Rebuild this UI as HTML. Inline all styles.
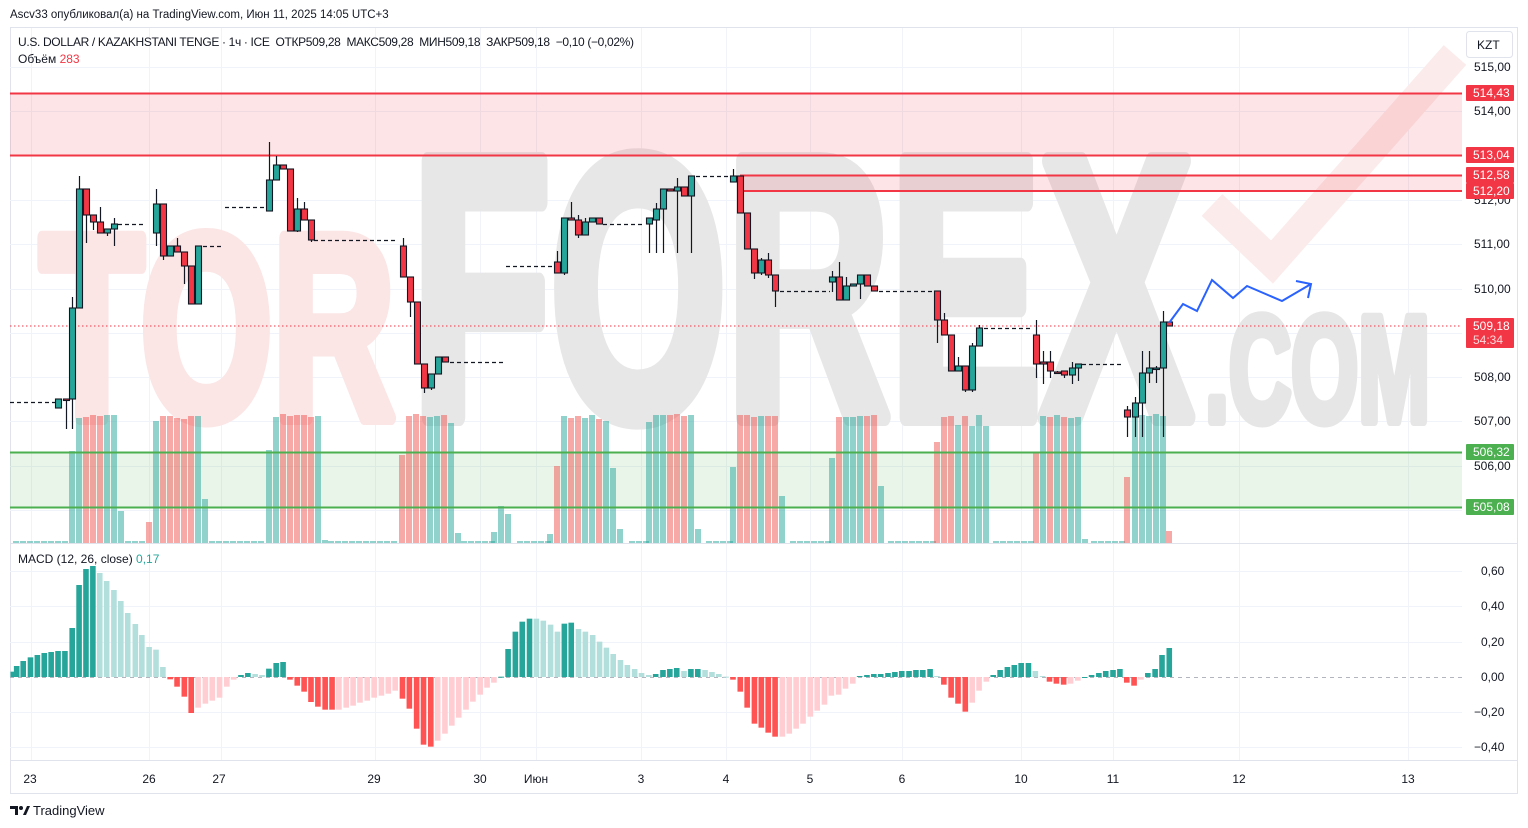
<!DOCTYPE html>
<html><head><meta charset="utf-8"><style>
html,body{margin:0;padding:0;background:#fff;width:1528px;height:828px;overflow:hidden;font-family:"Liberation Sans","DejaVu Sans",sans-serif}
</style></head><body>
<svg id="s" width="1528" height="828" xmlns="http://www.w3.org/2000/svg" style="position:absolute;left:0;top:0">
<rect x="0" y="0" width="1528" height="828" fill="#fff"/>
<text x="10" y="18" font-size="11.5" fill="#131722" font-family="Liberation Sans, DejaVu Sans, sans-serif">Ascv33 опубликовал(а) на TradingView.com, Июн 11, 2025 14:05 UTC+3</text>
<rect x="10.5" y="27.5" width="1507" height="766" fill="none" stroke="#e0e3eb"/>
<g id="grid" stroke="#f0f3fa" stroke-width="1"></g>
<!-- watermark -->
<g font-family="Liberation Sans, DejaVu Sans, sans-serif" font-weight="bold" stroke-linejoin="round">
<text x="40" y="418" font-size="262" textLength="355" lengthAdjust="spacingAndGlyphs" fill="#fbe5e5" stroke="#fbe5e5" stroke-width="14">TOR</text>
<text x="412" y="417" font-size="372" textLength="780" lengthAdjust="spacingAndGlyphs" fill="#e7e7e7" stroke="#e7e7e7" stroke-width="18">FOREX</text>
<text x="1205" y="421" font-size="150" textLength="225" lengthAdjust="spacingAndGlyphs" fill="#e6e6e6" stroke="#e6e6e6" stroke-width="10">.COM</text>
</g>
<polyline points="1212,205 1272,262 1455,55" fill="none" stroke="#fcebeb" stroke-width="30"/>
<!-- zones -->
<rect x="10" y="93" width="1452" height="62" fill="#f23645" fill-opacity="0.13"/>
<line x1="10" y1="93.5" x2="1462" y2="93.5" stroke="#f23645" stroke-width="2"/>
<line x1="10" y1="155.5" x2="1462" y2="155.5" stroke="#f23645" stroke-width="2"/>
<rect x="740" y="175" width="722" height="16" fill="#f23645" fill-opacity="0.13"/>
<line x1="740" y1="175.5" x2="1462" y2="175.5" stroke="#f23645" stroke-width="2"/>
<line x1="743" y1="191" x2="1462" y2="191" stroke="#f23645" stroke-width="2"/>
<rect x="10" y="452" width="1452" height="55" fill="#4caf50" fill-opacity="0.13"/>
<g id="vol"></g>
<line x1="10" y1="452.5" x2="1462" y2="452.5" stroke="#4caf50" stroke-width="2"/>
<line x1="10" y1="507.5" x2="1462" y2="507.5" stroke="#4caf50" stroke-width="2"/>
<line x1="10" y1="326" x2="1462" y2="326" stroke="#f23645" stroke-width="1" stroke-dasharray="1.5,2.5"/>
<g id="dash" stroke="#131722" stroke-width="1.3" stroke-dasharray="4,3"></g>
<g id="cdl"></g>
<polyline points="1169,323 1183,304 1197,311 1212,280 1233,298 1247,286 1282,301 1311,284" fill="none" stroke="#2962ff" stroke-width="2"/>
<polyline points="1296,281 1311,284 1308,298" fill="none" stroke="#2962ff" stroke-width="2"/>
<line x1="10" y1="543.5" x2="1517" y2="543.5" stroke="#e0e3eb"/>
<line x1="10" y1="677.5" x2="1462" y2="677.5" stroke="#b2b5be" stroke-dasharray="4,4"/>
<g id="macd"></g>
<line x1="10" y1="760.5" x2="1517" y2="760.5" stroke="#e0e3eb"/>
<!-- legend -->
<g font-size="12" fill="#131722" font-family="Liberation Sans, DejaVu Sans, sans-serif">
<text x="18" y="46">U.S. DOLLAR / KAZAKHSTANI TENGE · 1ч · ICE  ОТКР509,28  МАКС509,28  МИН509,18  ЗАКР509,18  −0,10 (−0,02%)</text>
<text x="18" y="63">Объём <tspan fill="#f23645">283</tspan></text>
<text x="18" y="563">MACD (12, 26, close) <tspan fill="#26a69a">0,17</tspan></text>
</g>
<rect x="1466.5" y="31.5" width="46" height="26" rx="3" fill="#fff" stroke="#e0e3eb"/>
<text x="1477" y="49" font-size="12" fill="#131722">KZT</text>
<g id="axis" font-size="12" fill="#131722" font-family="Liberation Sans, DejaVu Sans, sans-serif"></g>
<g id="tags" font-size="12" fill="#fff" font-family="Liberation Sans, DejaVu Sans, sans-serif"></g>
<g id="time" font-size="12" fill="#131722" font-family="Liberation Sans, DejaVu Sans, sans-serif"></g>
<g transform="translate(10,804)"><path d="M0 2h8v9h-3v-6h-5z" fill="#131722"/><circle cx="11" cy="4" r="2" fill="#131722"/><path d="M13 11l4-9h3l-4 9z" fill="#131722"/></g>
<text x="33" y="815" font-size="13" fill="#131722" font-family="Liberation Sans, DejaVu Sans, sans-serif">TradingView</text>
</svg>
<script>
const NS="http://www.w3.org/2000/svg";
function el(p,t,a,txt){const e=document.createElementNS(NS,t);for(const k in a)e.setAttribute(k,a[k]);if(txt!==undefined)e.textContent=txt;document.getElementById(p).appendChild(e);return e;}
// fix legend spacing
document.querySelectorAll('text').forEach(t=>{if(t.textContent.indexOf('ОТКР')>=0){t.textContent='U.S. DOLLAR / KAZAKHSTANI TENGE · 1ч · ICE\u00a0\u00a0ОТКР509,28\u00a0\u00a0МАКС509,28\u00a0\u00a0МИН509,18\u00a0\u00a0ЗАКР509,18\u00a0\u00a0−0,10 (−0,02%)';t.setAttribute('textLength','616');}});
// grid
[31,149,221,375,480,536,641,726,810,902,1021,1113,1239,1408].forEach(x=>el('grid','line',{x1:x+.5,y1:28,x2:x+.5,y2:760}));
[67,111,155,200,244,289,333,377,421,466,510,571,606,642,712,747].forEach(y=>el('grid','line',{x1:10,y1:y+.5,x2:1462,y2:y+.5}));
// axis labels
[[67,'515,00'],[111,'514,00'],[200,'512,00'],[244,'511,00'],[289,'510,00'],[377,'508,00'],[421,'507,00'],[466,'506,00'],[571,'0,60'],[606,'0,40'],[642,'0,20'],[677,'0,00'],[712,'−0,20'],[747,'−0,40']].forEach(a=>el('axis','text',{x:a[1].length>5?1474:(a[1][0]=='−'?1474:1481),y:a[0]+4},a[1]));
function tag(y,t,c,h){el('tags','rect',{x:1466,y:y-8,width:48,height:h||16,fill:c,rx:1});el('tags','text',{x:1473,y:y+4},t);}
tag(93,'514,43','#f23645');tag(155,'513,04','#f23645');tag(175,'512,58','#f23645');tag(191,'512,20','#f23645');
tag(326,'509,18','#f23645',30);el('tags','text',{x:1473,y:344,'fill-opacity':0.8},'54:34');
tag(452,'506,32','#4caf50');tag(507,'505,08','#4caf50');
[[30,'23'],[149,'26'],[219,'27'],[374,'29'],[480,'30'],[536,'Июн'],[641,'3'],[726,'4'],[810,'5'],[902,'6'],[1021,'10'],[1113,'11'],[1239,'12'],[1408,'13']].forEach(a=>el('time','text',{x:a[0],y:783,'text-anchor':'middle'},a[1]));
// dashes
[[10,57,402],[118,145,224],[203,222,246],[225,265,207],[314,398,240],[450,503,362],[506,553,266],[603,645,224],[696,730,176],[780,830,291],[879,935,291],[984,1030,328],[1082,1123,364]].forEach(d=>el('dash','line',{x1:d[0],y1:d[2]+.5,x2:d[1],y2:d[2]+.5}));
// volumes
const vol=[[72,'t',451],[79,'t',418],[86,'r',417],[93,'r',415],[100,'r',416],[107,'t',415],[114,'t',415],[121,'t',511],
[149,'r',522],[156,'t',421],[163,'r',416],[170,'r',416],[177,'r',418],[184,'r',419],[191,'r',416],[198,'t',416],[205,'t',499],
[269,'t',450],[276,'t',417],[283,'r',414],[290,'r',416],[297,'r',415],[304,'r',415],[311,'r',417],[318,'t',416],[325,'t',540],
[402,'r',455],[409,'r',416],[416,'r',414],[423,'r',416],[430,'t',417],[437,'t',416],[444,'r',415],[451,'t',423],[458,'t',533],
[494,'t',532],[501,'t',506],[508,'t',514],
[550,'t',534],[557,'r',466],[564,'t',416],[571,'r',418],[578,'r',416],[585,'t',418],[592,'t',415],[599,'r',419],[606,'t',421],[613,'t',468],[620,'t',529],
[649,'t',422],[656,'t',415],[663,'t',415],[670,'r',415],[677,'r',414],[684,'r',416],[691,'t',415],[698,'t',529],
[733,'t',467],[740,'r',415],[747,'r',415],[754,'r',417],[761,'t',416],[768,'r',416],[775,'r',416],[782,'t',496],
[832,'t',458],[839,'r',417],[846,'t',417],[853,'t',417],[860,'t',416],[867,'r',416],[874,'r',415],[881,'t',486],
[937,'r',442],[944,'r',417],[951,'r',416],[958,'t',425],[965,'r',416],[972,'t',426],[979,'t',415],[986,'t',426],
[1036,'r',452],[1043,'t',416],[1050,'r',417],[1057,'t',415],[1064,'r',417],[1071,'t',418],[1078,'t',417],[1085,'t',539],
[1127,'r',477],[1135,'t',415],[1142,'t',415],[1149,'t',416],[1156,'t',414],[1163,'t',416],[1169,'r',531]];
const used={};vol.forEach(v=>used[Math.round(v[0]/7)]=1);
for(let x=16;x<1166;x+=7){if(!used[Math.round(x/7)])el('vol','rect',{x:x-3,y:541,width:6,height:2,fill:'#26a69a','fill-opacity':0.5});}
vol.forEach(v=>el('vol','rect',{x:v[0]-3,y:v[2],width:6,height:543-v[2],fill:v[1]=='t'?'#26a69a':'#ef5350','fill-opacity':0.5}));
// candles [x,o,c,h,l]
const C=[[58,408,399,399,408],[66,399,400,399,429],[72,399,308,297,429],[79,308,189,176,308],[86,189,215,189,243],[93,215,222,215,230],[100,222,233,207,233],[107,233,229,229,236],[114,229,224,218,246],
[156,233,204,189,246],[163,204,256,204,260],[170,256,246,246,256],[177,246,252,238,252],[184,252,266,252,284],[191,266,304,266,304],[198,304,246,246,304],
[269,211,180,142,211],[276,180,165,156,180],[283,165,169,165,169],[290,169,231,169,231],[297,231,209,198,232],[304,209,220,202,220],[311,220,240,220,242],
[403,246,277,238,277],[410,277,302,277,317],[417,302,364,302,364],[424,364,388,364,393],[431,388,374,374,390],[438,374,357,357,374],[445,357,362,357,362],
[557,262,273,251,273],[564,273,218,218,275],[571,218,220,202,220],[578,220,235,215,238],[585,235,222,218,235],[592,222,218,218,222],[599,218,224,218,224],
[649,224,218,218,253],[656,220,209,203,253],[663,209,189,189,253],[670,189,191,189,191],[677,191,187,178,253],[684,187,196,187,196],[691,196,176,176,253],
[733,182,176,169,182],[740,176,213,176,213],[747,213,249,213,249],[754,249,273,249,279],[761,273,260,258,275],[768,260,275,253,278],[775,275,291,275,307],
[832,282,277,271,292],[839,277,300,262,300],[846,300,286,277,300],[853,286,284,284,286],[860,284,275,275,299],[867,275,286,275,286],[874,286,291,286,291],
[937,291,320,291,343],[944,320,335,313,335],[951,335,371,335,371],[958,371,366,357,371],[965,366,390,366,392],[972,390,346,343,392],[979,346,328,325,346],
[1036,335,364,320,378],[1043,362,364,351,384],[1050,362,371,351,378],[1057,372,373,371,373],[1064,371,375,371,378],[1072,375,368,362,384],[1078,368,364,364,381],
[1127,410,417,406,437],[1135,417,403,397,437],[1142,403,373,351,437],[1149,373,368,351,383],[1156,369,368,366,383],[1163,368,322,311,437],[1169,322,326,322,326]];
C.forEach(c=>{const up=c[2]<c[1];const col=up?'#26a69a':'#f23645';const t=Math.min(c[1],c[2]),b=Math.max(c[1],c[2]);
el('cdl','line',{x1:c[0]+.5,y1:c[3],x2:c[0]+.5,y2:c[4],stroke:'#131722','stroke-width':1.2});
el('cdl','rect',{x:c[0]-2.5,y:t,width:6,height:Math.max(b-t,1.5),fill:col,stroke:'#131722','stroke-width':1.1});});
// MACD
const z4="8T365 17T348 34T333 53T322 71T315 89T309 107T306 125T303 143T303 162T234 180T105 198T57 216T48 234t69 252t93 271t120 289t153 307t189 327t222 344t255 363t291 381t299 399t351 418R388 436R410 455R440 473R489 491r473 510r461 528r452 547r443 566r410 584r389 603T375 621T369 640t372 658t375 676T356 695T339 713T336 731R389 750R407 768R425 786R456 804R470 823R479 841R479 859r479 878r473 896r467 914r458 933r452 951r443 970r437 988r431 1006r422 1025R446 1043R476 1062R536 1080R584 1099R590 1117r572 1136r551 1154r527 1172r503 1191r479 1209r455 1228r434 1246r413 1264r398 1283T380 1301T297 1320T245 1338T215 1357T206 1375t206 1393t212 1412t224 1430t245 1448T221 1466T218 1485t237 1503t245 1522t255 1540t275 1558t293";
const z5="34t312 53t330 71t345 90t357 108t369 127t375 145T372 164T360 182T357 200T354 219t363 237T357 255T357 274t360 292t366 310t372 329t380 347R389 366R425 384R473 403R521 421R533 439R548 457R560 476r560 494r551 512r536 530r521 549r500 567r482 586r464 604r437 623r434 641r416 660r401 678T378 697T375 715T372 733T372 752T369 770T366 788T363 807T363 825T360 843T360 862T357 880t378 898R404 917R443 935R461 954R485 972r458 990r422 1009r395 1027T375 1045T360 1064T351 1082T345 1100T339 1119T339 1137t363 1156t378 1174R395 1192R401 1211R404 1229r401 1248r392 1266T381 1284T375 1303T369 1321T363 1340T360 1358T357 1376R398 1395R407 1413r389 1431T369 1450T357 1468T315 1487T294";
const col={T:'#26a69a',t:'#b2dfdb',R:'#ff5252',r:'#ffcdd2'};
function drawM(s,ox){s.split(' ').forEach(tok=>{const m=tok.match(/(\d+)([TtRr])(\d+)/);const x=ox+(+m[1])/2.613;const y=550+(+m[3])/3;
const t=Math.min(y,677),h=Math.max(Math.abs(y-677),1);el('macd','rect',{x:x-2.6,y:t,width:5.6,height:h,fill:col[m[2]]});});}
drawM(z4,10);drawM(z5,600);
</script>
</body></html>
